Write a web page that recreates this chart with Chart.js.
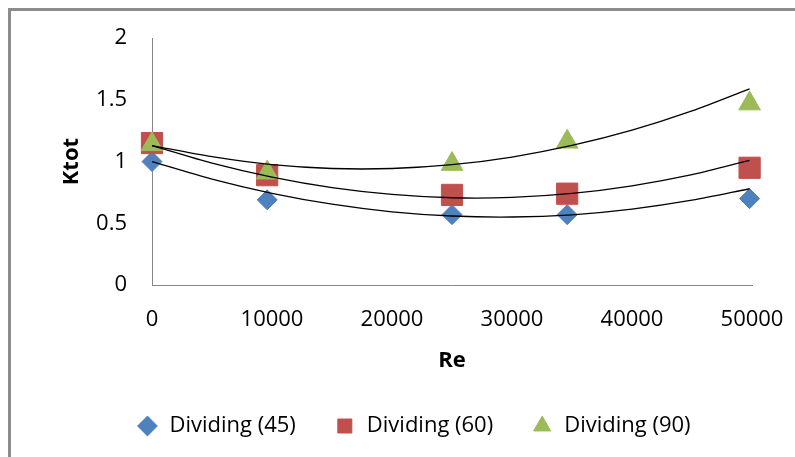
<!DOCTYPE html>
<html>
<head>
<meta charset="utf-8">
<script src="https://cdn.jsdelivr.net/npm/chart.js@4.4.1/dist/chart.umd.min.js"></script>
<style>
body { margin: 0; background: #fff; overflow: hidden; }
#wrap { position: relative; width: 795px; height: 457px; overflow: hidden; }
#frame { position: absolute; left: 8px; top: 8px; width: 800px; height: 460px; border-left: 3px solid #8c8c8c; border-top: 3px solid #8c8c8c; }
#chart { position: absolute; left: 0; top: 0; }
</style>
</head>
<body>
<div id="wrap">
  <div id="frame"></div>
  <canvas id="chart" width="795" height="457"></canvas>
</div>
<script>
// measured points
const reValues = [0, 9600, 25000, 34600, 49800];
const k45 = [1.00, 0.69, 0.57, 0.57, 0.70];
const k60 = [1.15, 0.89, 0.73, 0.74, 0.95];
const k90 = [1.14, 0.91, 0.98, 1.16, 1.47];

// trendlines
const trendRe = [0, 5000, 10000, 15000, 20000, 25000, 30000, 35000, 40000, 45000, 49800];
const trend45 = [1.00, 0.858, 0.743, 0.655, 0.593, 0.559, 0.551, 0.569, 0.615, 0.687, 0.78];
const trend60 = [1.13, 0.987, 0.874, 0.789, 0.734, 0.707, 0.710, 0.742, 0.804, 0.894, 1.01];
const trend90 = [1.13, 1.04, 0.975, 0.944, 0.944, 0.975, 1.037, 1.131, 1.255, 1.411, 1.59];

const seriesNames = ['Dividing (45)', 'Dividing (60)', 'Dividing (90)'];
const xTicks = [0, 10000, 20000, 30000, 40000, 50000];
const yTicks = [0, 0.5, 1, 1.5, 2];

const font = { family: "'Open Sans', sans-serif", size: 22 };
const boldFont = { family: "'Open Sans', sans-serif", size: 22, weight: 'bold' };

function pts(xs, ys) { return xs.map((x, i) => ({ x: x, y: ys[i] })); }

// later series drawn on top, like the original
function markerSet(label, ys, color, style, r, order) {
    return {
        label: label, data: pts(reValues, ys), order: order, clip: false,
        backgroundColor: color, borderColor: color, borderWidth: 1,
        pointStyle: style, pointRadius: r, pointHoverRadius: r, showLine: false
    };
}
function trendSet(ys) {
    return {
        label: 'trend', data: pts(trendRe, ys), order: 1, clip: false,
        showLine: true, borderColor: '#000', borderWidth: 1.3,
        pointRadius: 0, tension: 0.3, fill: false
    };
}

const legendHeight = {
    id: 'legendHeight',
    beforeInit(chart) {
        const fit = chart.legend.fit;
        chart.legend.fit = function () {
            fit.bind(chart.legend)();
            this.height = 80;
        };
    }
};

new Chart(document.getElementById('chart'), {
    type: 'scatter',
    data: {
        datasets: [
            markerSet(seriesNames[0], k45, '#4f81bd', 'rectRot', 10, 4),
            markerSet(seriesNames[1], k60, '#c0504d', 'rect', 15, 3),
            markerSet(seriesNames[2], k90, '#9bbb59', 'triangle', 12.5, 2),
            trendSet(trend45),
            trendSet(trend60),
            trendSet(trend90)
        ]
    },
    options: {
        responsive: false,
        animation: false,
        layout: { padding: { left: 32, right: 0, top: 34, bottom: 0 } },
        plugins: {
            tooltip: { enabled: false },
            legend: {
                position: 'bottom',
                labels: {
                    usePointStyle: true, boxHeight: 14, padding: 38, font: font, color: '#000',
                    filter: item => item.datasetIndex < 3,
                    sort: (a, b) => a.datasetIndex - b.datasetIndex
                }
            }
        },
        scales: {
            x: {
                type: 'linear', position: 'bottom', min: 0, max: 50000,
                afterBuildTicks: s => { s.ticks = xTicks.map(v => ({ value: v })); },
                ticks: { callback: v => String(v), font: font, color: '#000', padding: 22 },
                grid: { display: false, drawTicks: false },
                border: { display: true, color: '#868686', width: 1 },
                title: { display: true, text: 'Re', font: boldFont, color: '#000', padding: { top: 0, bottom: 3 } },
                afterFit: s => { s.height = 92; s.paddingRight = 0; }
            },
            y: {
                type: 'linear', position: 'left', min: 0, max: 2,
                afterBuildTicks: s => { s.ticks = yTicks.map(v => ({ value: v })); },
                ticks: { callback: v => String(v), font: font, color: '#000', padding: 25 },
                grid: { display: false, drawTicks: false },
                border: { display: true, color: '#868686', width: 1 },
                title: { display: true, text: 'Ktot', font: boldFont, color: '#000', padding: { top: 27, bottom: 0 } },
                afterFit: s => { s.width = 120; }
            },
            y2: {
                type: 'linear', position: 'right', display: true,
                ticks: { display: false }, grid: { display: false, drawTicks: false },
                border: { display: false },
                afterFit: s => { s.width = 43; }
            }
        }
    },
    plugins: [legendHeight]
});
</script>
</body>
</html>
